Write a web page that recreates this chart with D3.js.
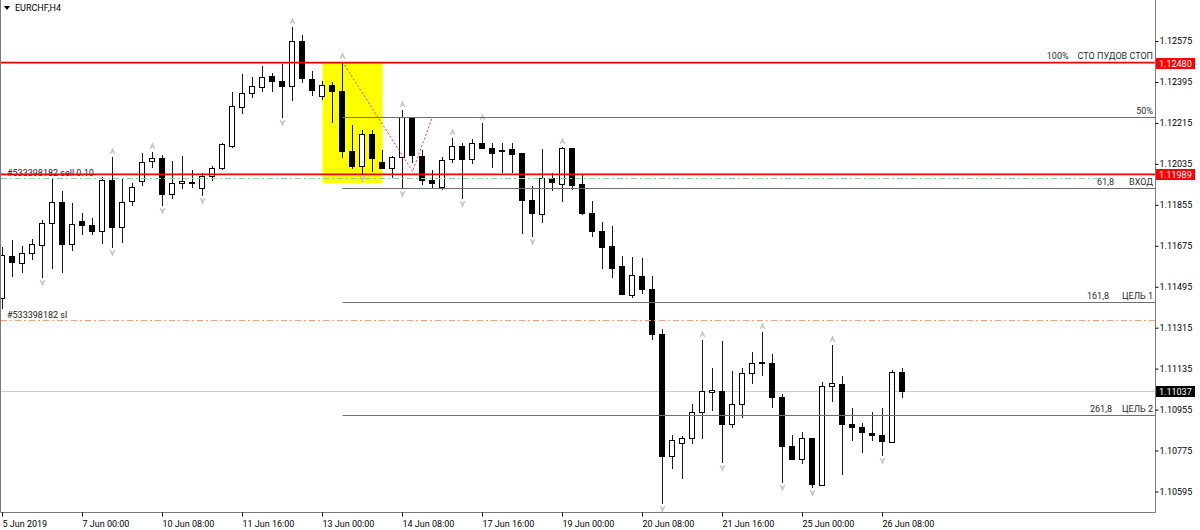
<!DOCTYPE html>
<html>
<head>
<meta charset="utf-8">
<script src="https://cdn.jsdelivr.net/npm/d3@7"></script>
<style>
body { margin: 0; background: #fff; }
text { font-family: Roboto, "Liberation Sans", sans-serif; font-size: 9px; }
</style>
</head>
<body>
<svg id="chart" width="1200" height="530"></svg>
<script>
// EURCHF H4, bars from 5 Jun 2019 16:00
var open = [1.11445,1.11630,1.11599,1.11643,1.11678,1.11775,1.11867,1.11683,1.11784,1.11766,
  1.11740,1.11964,1.11757,1.11872,1.11960,1.12048,1.12061,1.11902,1.11951,1.11955,
  1.11929,1.11982,1.12017,1.12113,1.12285,1.12346,1.12373,1.12421,1.12399,1.12377,
  1.12575,1.12408,1.12333,1.12382,1.12355,1.12092,1.12026,1.12166,1.12043,1.12017,
  1.12065,1.12241,1.12069,1.11964,1.11933,1.12056,1.12113,1.12056,1.12127,1.12105,
  1.12092,1.12100,1.12083,1.11876,1.11815,1.11973,1.11946,1.12105,1.11946,1.11819,
  1.11740,1.11674,1.11586,1.11459,1.11542,1.11485,1.11287,1.10751,1.10808,1.10830,
  1.10944,1.11032,1.11037,1.10892,1.10979,1.11116,1.11160,1.11160,1.11010,1.10795,
  1.10738,1.10830,1.10623,1.11059,1.11067,1.10892,1.10878,1.10852,1.10843,1.10812,
  1.11120];
var high = [1.11670,1.11700,1.11674,1.11705,1.11788,1.11968,1.11916,1.11863,1.11819,1.11797,
  1.11977,1.12065,1.11973,1.11951,1.12083,1.12087,1.12074,1.12048,1.12069,1.12008,
  1.11995,1.12026,1.12127,1.12351,1.12430,1.12417,1.12465,1.12434,1.12474,1.12637,
  1.12601,1.12443,1.12399,1.12395,1.12484,1.12206,1.12184,1.12184,1.12096,1.12069,
  1.12272,1.12241,1.12096,1.12008,1.12065,1.12149,1.12127,1.12144,1.12215,1.12127,
  1.12127,1.12127,1.12083,1.11938,1.12100,1.11995,1.12109,1.12105,1.11986,1.11872,
  1.11779,1.11762,1.11630,1.11626,1.11621,1.11542,1.11309,1.10843,1.10839,1.10979,
  1.11261,1.11138,1.11256,1.11125,1.11138,1.11208,1.11296,1.11199,1.11023,1.10843,
  1.10856,1.10830,1.11076,1.11239,1.11103,1.10962,1.10896,1.10944,1.10962,1.11129,
  1.11138];
var low = [1.11401,1.11542,1.11560,1.11617,1.11538,1.11577,1.11560,1.11656,1.11727,1.11727,
  1.11687,1.11670,1.11692,1.11854,1.11942,1.12021,1.11854,1.11885,1.11929,1.11933,
  1.11898,1.11964,1.12012,1.12109,1.12259,1.12329,1.12355,1.12355,1.12241,1.12316,
  1.12395,1.12338,1.12320,1.12219,1.12065,1.12017,1.11995,1.12004,1.12017,1.11977,
  1.11929,1.12043,1.11946,1.11933,1.11924,1.12043,1.11885,1.12039,1.12105,1.12021,
  1.11999,1.11999,1.11730,1.11718,1.11779,1.11920,1.11872,1.11924,1.11815,1.11718,
  1.11577,1.11538,1.11463,1.11450,1.11467,1.11265,1.10544,1.10698,1.10654,1.10808,
  1.10830,1.10953,1.10724,1.10878,1.10922,1.11072,1.11107,1.10966,1.10637,1.10738,
  1.10720,1.10615,1.10623,1.10993,1.10672,1.10821,1.10768,1.10821,1.10755,1.10812,
  1.11010];
var close = [1.11634,1.11604,1.11643,1.11683,1.11775,1.11867,1.11683,1.11771,1.11766,1.11740,
  1.11964,1.11757,1.11867,1.11933,1.12043,1.12061,1.11902,1.11951,1.11960,1.11951,
  1.11982,1.12017,1.12122,1.12289,1.12346,1.12377,1.12417,1.12399,1.12377,1.12575,
  1.12412,1.12360,1.12382,1.12355,1.12092,1.12026,1.12166,1.12061,1.12017,1.12065,
  1.12241,1.12074,1.11964,1.11951,1.12052,1.12113,1.12056,1.12127,1.12105,1.12083,
  1.12096,1.12078,1.11876,1.11819,1.11973,1.11955,1.12105,1.11942,1.11819,1.11740,
  1.11670,1.11577,1.11463,1.11546,1.11485,1.11287,1.10751,1.10821,1.10830,1.10944,
  1.11037,1.11041,1.10892,1.10979,1.11116,1.11160,1.11164,1.11010,1.10795,1.10738,
  1.10830,1.10628,1.11059,1.11072,1.10892,1.10878,1.10856,1.10843,1.10817,1.11120,
  1.11037];

// fractal bars (index)
var fractalUp = [11, 15, 29, 34, 40, 45, 48, 56, 70, 76, 83];
var fractalDown = [4, 11, 16, 20, 28, 36, 40, 46, 53, 66, 72, 78, 81, 88];

var timeTickIndex = [0, 8, 16, 24, 32, 40, 48, 56, 64, 72, 80, 88];
var timeTickText = ["5 Jun 2019", "7 Jun 00:00", "10 Jun 08:00", "11 Jun 16:00", "13 Jun 00:00",
  "14 Jun 08:00", "17 Jun 16:00", "19 Jun 00:00", "20 Jun 08:00", "21 Jun 16:00",
  "25 Jun 00:00", "26 Jun 08:00"];
var priceTicks = [1.12575, 1.12395, 1.12215, 1.12035, 1.11855, 1.11675, 1.11495,
  1.11315, 1.11135, 1.10955, 1.10775, 1.10595];

var redLevels = [1.12480, 1.11989];
var bidPrice = 1.11037;
var orderPrice = 1.11973;
var orderLabel = "#533398182 sell 0.10";
var slPrice = 1.11349;
var slLabel = "#533398182 sl";

var fibStart = 34;
var fibLevels = [1.12484, 1.12241, 1.11931, 1.11430, 1.10931];
var fibNames = ["100%", "50%", "61,8", "161,8", "261,8"];
var fibDesc = ["СТО ПУДОВ СТОП", "", "ВХОД", "ЦЕЛЬ 1", "ЦЕЛЬ 2"];
var fibGap = [9, 0, 15, 13, 10];

var boxFrom = 32, boxTo = 38, boxTop = 1.12480, boxBottom = 1.11951;
var zigzag = [[34, 1.12484], [41, 1.12002], [43, 1.12241]];

var svg = d3.select('#chart');
var plotRight = 1155;
var plotBottom = 512;

var x = d3.scaleLinear().domain([0, 100]).range([2.5, 1002.5]);
var y = d3.scaleLinear().domain([1.10595, 1.12575]).range([491.5, 41]);
function cx(i) { return Math.floor(x(i)); }
function py(v) { return Math.round(y(v)) + 0.5; }

// yellow box (background)
svg.append('rect')
  .attr('x', x(boxFrom)).attr('y', y(boxTop))
  .attr('width', x(boxTo) - x(boxFrom)).attr('height', y(boxBottom) - y(boxTop))
  .attr('fill', '#ffff00');

// bid line
svg.append('line')
  .attr('x1', 1).attr('x2', plotRight)
  .attr('y1', py(bidPrice)).attr('y2', py(bidPrice))
  .attr('stroke', '#cccccc');

// candles
var candles = d3.range(open.length).map(function(i) {
  return { i: i, o: open[i], h: high[i], l: low[i], c: close[i] };
});
var cg = svg.append('g');
cg.selectAll('line.wick').data(candles).join('line')
  .attr('class', 'wick')
  .attr('x1', d => cx(d.i) + 0.5).attr('x2', d => cx(d.i) + 0.5)
  .attr('y1', d => Math.round(y(d.h))).attr('y2', d => Math.round(y(d.l)) + 1)
  .attr('stroke', '#1a1a1a');
cg.selectAll('rect.bear').data(candles.filter(d => d.c < d.o)).join('rect')
  .attr('class', 'bear')
  .attr('x', d => cx(d.i) - 3).attr('width', 6)
  .attr('y', d => Math.round(y(d.o)))
  .attr('height', d => Math.round(y(d.c)) - Math.round(y(d.o)) + 1)
  .attr('fill', '#000');
cg.selectAll('rect.bull').data(candles.filter(d => d.c >= d.o)).join('rect')
  .attr('class', 'bull')
  .attr('x', d => cx(d.i) - 2.5).attr('width', 5)
  .attr('y', d => Math.round(y(d.c)) + 0.5)
  .attr('height', d => Math.max(0, Math.round(y(d.o)) - Math.round(y(d.c))))
  .attr('fill', '#fff').attr('stroke', '#000');

// fractal arrows
svg.selectAll('path.fup').data(fractalUp).join('path')
  .attr('class', 'fup')
  .attr('transform', i => 'translate(' + (cx(i) + 0.5) + ',' + (y(high[i]) - 6) + ')')
  .attr('d', 'M0,-3L2.5,3L0,1L-2.5,3Z')
  .attr('fill', '#cfcfcf').attr('stroke', '#b0b0b0').attr('stroke-width', 0.5);
svg.selectAll('path.fdn').data(fractalDown).join('path')
  .attr('class', 'fdn')
  .attr('transform', i => 'translate(' + (cx(i) + 0.5) + ',' + (y(low[i]) + 6) + ')')
  .attr('d', 'M0,3L2.5,-3L0,-1L-2.5,-3Z')
  .attr('fill', '#cfcfcf').attr('stroke', '#b0b0b0').attr('stroke-width', 0.5);

// fibo levels
svg.selectAll('line.fib').data(fibLevels).join('line')
  .attr('class', 'fib')
  .attr('x1', x(fibStart)).attr('x2', plotRight)
  .attr('y1', d => py(d)).attr('y2', d => py(d))
  .attr('stroke', '#6e6e6e');
fibLevels.forEach(function(v, k) {
  var base = py(v) - 3.5;
  var left = plotRight - 2;
  if (fibDesc[k]) {
    var t = svg.append('text').attr('x', left).attr('y', base)
      .attr('text-anchor', 'end').attr('fill', '#2b2b2b').text(fibDesc[k]);
    left = left - t.node().getComputedTextLength() - fibGap[k];
  }
  svg.append('text').attr('x', left).attr('y', base)
    .attr('text-anchor', 'end').attr('fill', '#2b2b2b').text(fibNames[k]);
});

// order + stop loss lines
svg.append('line')
  .attr('x1', 1).attr('x2', 1103)
  .attr('y1', py(orderPrice)).attr('y2', py(orderPrice))
  .attr('stroke', '#90d090').attr('stroke-dasharray', '6,3,2,3');
svg.append('line')
  .attr('x1', 1).attr('x2', plotRight)
  .attr('y1', py(slPrice)).attr('y2', py(slPrice))
  .attr('stroke', '#ffa07a').attr('stroke-dasharray', '6,3,2,3');
svg.append('text').attr('x', 7).attr('y', py(orderPrice) - 2.5).attr('fill', '#222').text(orderLabel);
svg.append('text').attr('x', 7).attr('y', py(slPrice) - 2.5).attr('fill', '#222').text(slLabel);

// red horizontal levels
svg.selectAll('line.red').data(redLevels).join('line')
  .attr('class', 'red')
  .attr('x1', 1).attr('x2', plotRight)
  .attr('y1', d => y(d)).attr('y2', d => y(d))
  .attr('stroke', '#ee0000').attr('stroke-width', 1.6);

// zigzag
svg.append('path')
  .attr('d', d3.line().x(d => x(d[0])).y(d => y(d[1]))(zigzag))
  .attr('fill', 'none').attr('stroke', '#ff3030')
  .attr('stroke-dasharray', '2,2');

// frame
svg.append('path')
  .attr('d', 'M0.5,0V' + (plotBottom + 0.5) + 'H' + (plotRight + 0.5) + 'V0')
  .attr('fill', 'none').attr('stroke', '#7a7a7a');

// price axis
var yAxis = svg.append('g')
  .attr('transform', 'translate(' + (plotRight + 0.5) + ',0)')
  .call(d3.axisRight(y).tickValues(priceTicks).tickSize(3).tickPadding(1)
    .tickFormat(d3.format('.5f')));
yAxis.select('.domain').remove();
yAxis.selectAll('text').attr('font-family', null).attr('font-size', null);

// price tags
function tag(v, col) {
  var g = svg.append('g').attr('transform', 'translate(1156,' + Math.round(y(v)) + ')');
  g.append('rect').attr('x', 0).attr('y', -5).attr('width', 39).attr('height', 11).attr('fill', col);
  g.append('text').attr('x', 3).attr('y', 0.5).attr('dy', '0.34em').attr('fill', '#fff')
    .text(d3.format('.5f')(v));
}
redLevels.forEach(v => tag(v, '#ff0000'));
tag(bidPrice, '#000');

// time axis
var xAxis = svg.append('g')
  .attr('transform', 'translate(0,' + (plotBottom + 0.5) + ')')
  .call(d3.axisBottom(x).tickValues(timeTickIndex).tickSize(4).tickPadding(4)
    .tickFormat((d, k) => timeTickText[k]));
xAxis.select('.domain').remove();
xAxis.selectAll('.tick line').attr('transform', 'translate(-0.5,0)');
xAxis.selectAll('text').attr('font-family', null).attr('font-size', null)
  .attr('text-anchor', 'start').attr('x', -0.5);

// title
svg.append('path').attr('d', 'M4,6H10L7,10Z').attr('fill', '#000');
svg.append('text').attr('x', 15).attr('y', 11).text('EURCHF,H4');
</script>
</body>
</html>
